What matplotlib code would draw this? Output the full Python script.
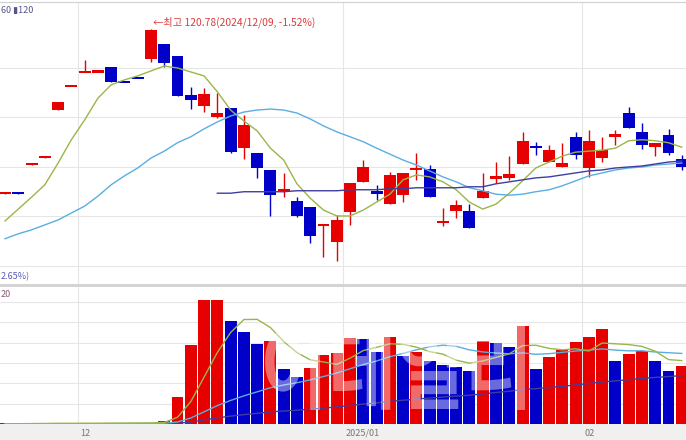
import numpy as np
import pandas as pd
import matplotlib
matplotlib.use("Agg")
import matplotlib.pyplot as plt
from matplotlib.patches import Rectangle, PathPatch
from matplotlib.textpath import TextPath
from matplotlib.font_manager import FontProperties
from matplotlib.transforms import Affine2D

plt.rcParams['font.family'] = ['Noto Sans CJK KR', 'DejaVu Sans']

# daily candles, 2024/11/22 .. 2025/02/12
opens = [117.46, 117.48, 118.05, 118.19, 119.15, 119.63, 119.91, 119.92, 120.02, 119.73,
         119.81, 120.18, 120.48, 120.24, 119.45, 119.23, 119.01, 119.19, 118.38, 118.28,
         117.94, 117.53, 117.31, 117.19, 116.82, 116.48, 117.09, 117.70, 117.52, 117.25,
         117.43, 117.94, 117.96, 116.87, 117.11, 117.11, 117.37, 117.76, 117.78, 118.06,
         118.42, 118.10, 118.00, 118.61, 117.98, 118.18, 118.61, 119.09, 118.71, 118.40,
         118.65, 118.16]
highs = [117.48, 117.48, 118.07, 118.21, 119.31, 119.65, 120.16, 119.94, 120.02, 119.73,
         119.81, 120.78, 120.48, 120.24, 119.62, 119.60, 119.49, 119.19, 119.05, 118.28,
         117.94, 117.88, 117.39, 117.19, 116.84, 117.03, 117.68, 118.14, 117.64, 117.90,
         117.88, 118.28, 118.04, 117.17, 117.33, 117.25, 117.88, 118.10, 118.22, 118.71,
         118.51, 118.44, 118.48, 118.71, 118.75, 118.61, 118.75, 119.21, 118.89, 118.48,
         118.77, 118.24]
lows = [117.46, 117.46, 118.05, 118.19, 119.15, 119.63, 119.91, 119.92, 119.72, 119.71,
        119.79, 120.12, 120.02, 119.43, 119.17, 119.11, 118.99, 118.28, 118.16, 117.78,
        117.01, 117.39, 116.99, 116.46, 116.18, 116.10, 116.83, 117.70, 117.33, 117.25,
        117.29, 117.74, 117.39, 116.81, 116.97, 116.77, 117.37, 117.68, 117.74, 118.06,
        118.24, 118.10, 118.00, 118.16, 117.80, 118.10, 118.44, 118.79, 118.36, 118.22,
        118.24, 117.94]
closes = [117.48, 117.46, 118.07, 118.21, 119.31, 119.65, 119.93, 119.94, 119.72, 119.71,
          119.79, 120.76, 120.10, 119.43, 119.35, 119.47, 119.09, 118.30, 118.85, 117.98,
          117.43, 117.55, 117.01, 116.61, 116.84, 116.93, 117.68, 118.00, 117.45, 117.84,
          117.88, 117.98, 117.39, 116.91, 117.23, 116.77, 117.52, 117.82, 117.86, 118.53,
          118.38, 118.34, 118.08, 118.24, 118.53, 118.34, 118.67, 118.79, 118.44, 118.48,
          118.28, 118.00]
# volume, thousand shares
volumes = [8, 6, 7, 5, 9, 7, 10, 8, 11, 9, 12, 14, 30, 266, 778, 1221, 1225, 1015, 906, 788,
           818, 542, 463, 552, 680, 699, 847, 840, 709, 857, 670, 709, 621, 585, 560, 522,
           818, 798, 758, 965, 542, 660, 729, 808, 857, 936, 621, 690, 719, 621, 522, 571]

# price moving averages as drawn on the chart
ma5 = [116.91, 117.15, 117.39, 117.64, 118.08, 118.55, 118.95, 119.39, 119.66, 119.76,
       119.84, 119.94, 120.04, 120.00, 119.92, 119.84, 119.52, 119.15, 118.93, 118.73,
       118.38, 118.14, 117.66, 117.37, 117.13, 117.01, 117.01, 117.13, 117.29, 117.45,
       117.74, 117.84, 117.80, 117.70, 117.54, 117.29, 117.15, 117.25, 117.47, 117.72,
       117.98, 118.10, 118.22, 118.30, 118.32, 118.34, 118.38, 118.53, 118.55, 118.53,
       118.49, 118.40]
ma20 = [116.55, 116.65, 116.73, 116.83, 116.93, 117.07, 117.21, 117.41, 117.64, 117.82,
        117.98, 118.18, 118.32, 118.49, 118.61, 118.77, 118.91, 119.03, 119.11, 119.15,
        119.17, 119.15, 119.09, 118.97, 118.83, 118.71, 118.61, 118.51, 118.38, 118.26,
        118.14, 118.04, 117.92, 117.80, 117.70, 117.58, 117.52, 117.45, 117.43, 117.45,
        117.50, 117.54, 117.62, 117.72, 117.82, 117.88, 117.94, 117.98, 118.00, 118.04,
        118.06, 118.08]
ma60 = [None] * 16 + [117.47, 117.47, 117.50, 117.50, 117.50, 117.50, 117.52, 117.52,
        117.52, 117.52, 117.54, 117.54, 117.54, 117.56, 117.56, 117.58, 117.58, 117.58,
        117.58, 117.60, 117.60, 117.66, 117.70, 117.74, 117.78, 117.80, 117.84, 117.88,
        117.92, 117.94, 117.98, 118.00, 118.02, 118.06, 118.10, 118.12]

month_pos = [5.5, 25.5, 43.5]
month_labels = ['12', '2025/01', '02']
price_grid = [120, 119, 118, 117, 116]
vol_grid = [200, 400, 600, 800, 1000, 1200]

RED = '#e60000'
BLUE = '#0000c8'
C5, C20, C60 = '#9ab648', '#5aaee0', '#3e3e9e'
GRID = '#e6e6e6'

o = np.array(opens); h = np.array(highs); l = np.array(lows); c = np.array(closes)
v = np.array(volumes, dtype=float)
x = np.arange(len(o))

W, H = 686, 440
fig = plt.figure(figsize=(W / 100, H / 100), dpi=100)
ax = fig.add_axes([0, 1 - 284 / H, 1, 282 / H])
axv = fig.add_axes([0, 1 - 424 / H, 1, 137 / H], sharex=ax)

# candles
col = np.where(c > o, RED, BLUE)
ax.vlines(x, l, h, colors=col, lw=1, zorder=2)
bh = np.maximum(np.abs(c - o), 0.05)
ax.bar(x, bh, bottom=(o + c) / 2 - bh / 2, width=0.9, color=col, lw=0, zorder=3)

ax.plot(x, ma5, color=C5, lw=1, zorder=4)
ax.plot(x, ma20, color=C20, lw=1, zorder=4)
ax.plot(x, np.array(ma60, dtype=float), color=C60, lw=1, zorder=4)

imax = int(np.argmax(h))
ax.annotate(f'←최고 {h[imax]:.2f}(2024/12/09, -1.52%)', xy=(imax, h[imax]),
            xytext=(2, 1), textcoords='offset pixels', ha='left', va='bottom',
            fontsize=7.4, color='#d83c3c')

ax.set_xlim(-0.377, 51.318)
ax.set_ylim(115.636, 121.333)
ax.set_yticks(price_grid)

# volume, coloured by change from the previous day
vcol = [RED] + [RED if v[i] >= v[i - 1] else BLUE for i in range(1, len(v))]
axv.bar(x, v, width=0.9, color=vcol, lw=0, zorder=2)
for n, cc in [(60, C60), (20, C20), (5, C5)]:
    vm = pd.Series(v).rolling(n, min_periods=1).sum() / n
    axv.plot(x, vm, color=cc, lw=1, zorder=3)
axv.set_ylim(0, 1349.7)
axv.set_yticks(vol_grid)

for a in (ax, axv):
    a.set_xticks(month_pos)
    a.grid(True, color=GRID, lw=0.8, zorder=0)
    a.set_axisbelow(True)
    a.tick_params(left=False, bottom=False, labelleft=False, labelbottom=False)
    for s in a.spines.values():
        s.set_visible(False)
ax.spines['top'].set_visible(True)
ax.spines['top'].set_color('#d0d0d0')

for p, lab in zip(month_pos, month_labels):
    axv.annotate(lab, xy=(p, 0), xycoords=('data', 'axes fraction'), xytext=(2, -9),
                 textcoords='offset pixels', ha='left', va='center', fontsize=6.5,
                 color='#777777')

# panel separator and bottom strip
fig.add_artist(Rectangle((0, 1 - 287 / H), 1, 3 / H, transform=fig.transFigure,
                         color='#d4d4d4', zorder=0))
fig.add_artist(Rectangle((0, 0), 1, 16 / H, transform=fig.transFigure,
                         color='#f0f0f0', zorder=0))

# small labels at the left edge
fig.text(1 / W, 1 - 11 / H, '60 ▮120', ha='left', va='center', fontsize=6.5, color='#55558a')
fig.text(1 / W, 1 - 277 / H, '2.65%)', ha='left', va='center', fontsize=6.5, color='#5a5ab8')
fig.text(1 / W, 1 - 294 / H, '20', ha='left', va='center', fontsize=6.5, color='#8a5a7a')

# watermark
fp = FontProperties(family='Noto Sans CJK KR', weight='bold')
tp = TextPath((0, 0), '이데일리', size=100, prop=fp)
ext = tp.get_extents()
tr = (Affine2D().translate(-ext.x0, -ext.y0)
      .scale(260 / ext.width, 85 / ext.height).translate(265, H - 410))
fig.add_artist(PathPatch(tp, transform=tr, facecolor=(1, 1, 1, 0.42),
                         edgecolor='none', zorder=10))

fig.savefig('out.png', dpi=100)
